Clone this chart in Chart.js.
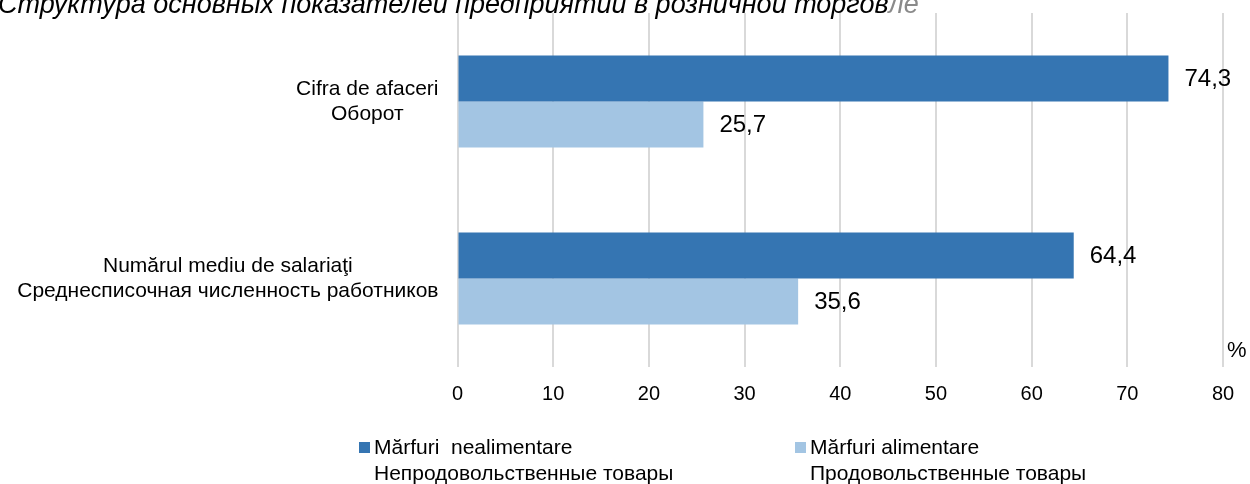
<!DOCTYPE html>
<html>
<head>
<meta charset="utf-8">
<script src="https://cdn.jsdelivr.net/npm/chart.js@4"></script>
<style>
  html, body { margin: 0; padding: 0; background: #fff; }
  #wrap { width: 1250px; height: 484px; }
</style>
</head>
<body>
<div id="wrap"><canvas id="retailChart" width="1250" height="484"></canvas></div>
<script>
  const chartTitle = 'Структура основных показателей предприятий в розничной торговле';
  const categories = [
    ['Cifra de afaceri', 'Оборот'],
    ['Numărul mediu de salariaţi', 'Среднесписочная численность работников']
  ];
  const seriesNames = [
    ['Mărfuri  nealimentare', 'Непродовольственные товары'],
    ['Mărfuri alimentare', 'Продовольственные товары']
  ];
  const nonFood = [74.3, 64.4];
  const food = [25.7, 35.6];
  const xMin = 0, xMax = 80, xStep = 10;
  const unitLabel = '%';

  const colors = ['#3575b2', '#a3c5e3'];

  // title, category labels, value labels, unit and legend are drawn by hand
  const extras = {
    id: 'extras',
    afterDraw(chart) {
      const ctx = chart.ctx;
      const area = chart.chartArea;
      const yScale = chart.scales.y;
      ctx.save();

      // title (cut at the top like the original, last letters fade to grey)
      ctx.font = 'italic 27px "Liberation Sans", Arial, sans-serif';
      ctx.textAlign = 'left';
      ctx.textBaseline = 'alphabetic';
      const head = chartTitle.slice(0, -2);
      ctx.fillStyle = '#000';
      ctx.fillText(head, -2, 13);
      ctx.fillStyle = '#8a8a8a';
      ctx.fillText(chartTitle.slice(-2), -2 + ctx.measureText(head).width, 13);

      // category labels: block right aligned, lines centred inside block
      ctx.fillStyle = '#000';
      ctx.font = '21px "Liberation Sans", Arial, sans-serif';
      ctx.textBaseline = 'middle';
      ctx.textAlign = 'center';
      categories.forEach(function (lines, i) {
        const yc = yScale.getPixelForValue(i);
        const w = Math.max.apply(null, lines.map(l => ctx.measureText(l).width));
        const cx = area.left - 19 - w / 2;
        const lh = 25;
        lines.forEach(function (l, k) {
          ctx.fillText(l, cx, yc + (k - (lines.length - 1) / 2) * lh);
        });
      });

      // value labels
      ctx.font = '24px "Liberation Sans", Arial, sans-serif';
      ctx.textAlign = 'left';
      chart.data.datasets.forEach(function (ds, di) {
        chart.getDatasetMeta(di).data.forEach(function (bar, i) {
          ctx.fillText(String(ds.data[i]).replace('.', ','), bar.x + 16, bar.y + 1);
        });
      });

      // unit
      ctx.font = '22px "Liberation Sans", Arial, sans-serif';
      ctx.fillText(unitLabel, area.right + 4, 351);

      // legend
      const legendX = [359, 795];
      ctx.font = '21px "Liberation Sans", Arial, sans-serif';
      seriesNames.forEach(function (lines, i) {
        ctx.fillStyle = colors[i];
        ctx.fillRect(legendX[i], 442, 11, 11);
        ctx.fillStyle = '#000';
        lines.forEach(function (l, k) {
          ctx.fillText(l, legendX[i] + 15, 448 + k * 26);
        });
      });
      ctx.restore();
    }
  };

  new Chart(document.getElementById('retailChart').getContext('2d'), {
    type: 'bar',
    data: {
      labels: categories,
      datasets: [
        { label: seriesNames[0].join(' '), data: nonFood, backgroundColor: colors[0] },
        { label: seriesNames[1].join(' '), data: food, backgroundColor: colors[1] }
      ]
    },
    options: {
      indexAxis: 'y',
      responsive: false,
      animation: false,
      layout: { padding: { top: 13, right: 27, left: 0, bottom: 0 } },
      datasets: { bar: { categoryPercentage: 0.52, barPercentage: 1, borderWidth: 0 } },
      scales: {
        x: {
          min: xMin,
          max: xMax,
          border: { display: false },
          grid: { color: '#d9d9d9', lineWidth: 2, drawTicks: false },
          ticks: {
            stepSize: xStep,
            padding: 15,
            color: '#000',
            font: { family: '"Liberation Sans", Arial', size: 20 }
          },
          afterFit(scale) { scale.height = 117; }
        },
        y: {
          border: { display: false },
          grid: { display: false },
          ticks: { display: false },
          afterFit(scale) { scale.width = 457.5; }
        }
      },
      plugins: {
        legend: { display: false },
        tooltip: { enabled: false }
      }
    },
    plugins: [extras]
  });
</script>
</body>
</html>
